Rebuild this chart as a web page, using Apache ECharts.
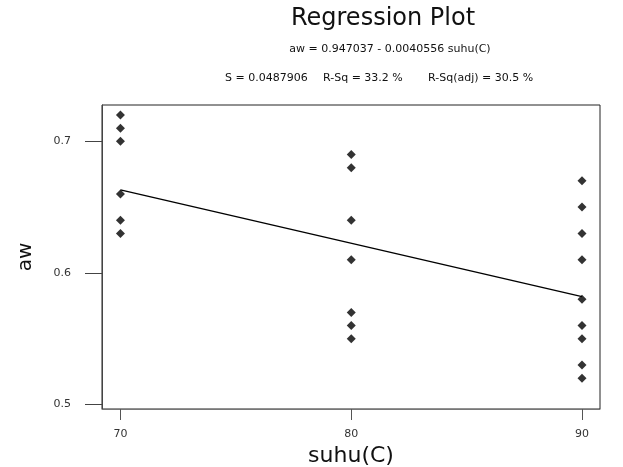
<!DOCTYPE html>
<html>
<head>
<meta charset="utf-8">
<script src="https://cdn.jsdelivr.net/npm/echarts@6/dist/echarts.min.js"></script>
<style>
  html, body { margin: 0; padding: 0; background: #fff; }
  #app { width: 623px; height: 467px; }
</style>
</head>
<body>
<div id="app"></div>
<script>
// observed aw values at each temperature
const aw70 = [0.72, 0.71, 0.70, 0.66, 0.64, 0.63];
const aw80 = [0.69, 0.68, 0.64, 0.61, 0.57, 0.56, 0.55];
const aw90 = [0.67, 0.65, 0.63, 0.61, 0.58, 0.56, 0.55, 0.53, 0.52];

// fitted line end points
const fitX = [70, 90];
const fitY = [0.6631, 0.5820];

const xTicks = [70, 80, 90];
const yTicks = [0.5, 0.6, 0.7];

const titleText = 'Regression Plot';
const eqText = 'aw = 0.947037 - 0.0040556 suhu(C)';
const statsText = ['S = 0.0487906', 'R-Sq = 33.2 %', 'R-Sq(adj) = 30.5 %'];

const font = '"DejaVu Sans", sans-serif';
const myChart = echarts.init(document.getElementById('app'));

const points = [
  ...aw70.map(v => [70, v]),
  ...aw80.map(v => [80, v]),
  ...aw90.map(v => [90, v]),
];

const text = (x, y, str, size, align, color) => ({
  type: 'text',
  x, y,
  style: {
    text: str,
    font: `${size}px ${font}`,
    fill: color || '#111',
    textAlign: align || 'center',
    textVerticalAlign: 'middle',
  },
});

const option = {
  backgroundColor: '#fff',
  animation: false,
  grid: {
    left: 102, right: 23, top: 105, bottom: 58,
    outerBoundsMode: 'none',
    containLabel: false,
    show: true,
    borderColor: '#222',
    borderWidth: 1,
  },
  xAxis: {
    type: 'value',
    min: 69.2,
    max: 90.78,
    name: 'suhu(C)',
    nameLocation: 'middle',
    nameGap: 28,
    nameTextStyle: { fontSize: 22, fontFamily: font, color: '#111' },
    axisLine: { show: true, lineStyle: { color: '#777', width: 1 } },
    axisTick: { show: true, customValues: xTicks, length: 11, lineStyle: { color: '#555' } },
    axisLabel: { customValues: xTicks, margin: 20, fontSize: 11, fontFamily: font, color: '#333' },
    splitLine: { show: false },
  },
  yAxis: {
    type: 'value',
    min: 0.4966,
    max: 0.7276,
    name: 'aw',
    nameLocation: 'middle',
    nameGap: 66,
    nameRotate: 90,
    nameTextStyle: { fontSize: 20, fontFamily: font, color: '#111' },
    axisLine: { show: true, lineStyle: { color: '#444', width: 1 } },
    axisTick: { show: true, customValues: yTicks, length: 17, lineStyle: { color: '#444' } },
    axisLabel: {
      customValues: yTicks,
      margin: 31,
      fontSize: 11,
      fontFamily: font,
      color: '#333',
      formatter: v => v.toFixed(1),
    },
    splitLine: { show: false },
  },
  graphic: [
    text(383, 19, titleText, 24),
    text(390, 49, eqText, 11),
    text(225, 78, statsText[0], 11, 'left'),
    text(323, 78, statsText[1], 11, 'left'),
    text(428, 78, statsText[2], 11, 'left'),
  ],
  series: [
    {
      name: 'fit',
      type: 'line',
      data: fitX.map((x, i) => [x, fitY[i]]),
      showSymbol: false,
      lineStyle: { color: '#000', width: 1.5 },
      z: 2,
    },
    {
      name: 'aw',
      type: 'scatter',
      data: points,
      symbol: 'diamond',
      symbolSize: [9, 9],
      itemStyle: { color: '#000' },
      z: 3,
    },
  ],
};

myChart.setOption(option);
</script>
</body>
</html>
